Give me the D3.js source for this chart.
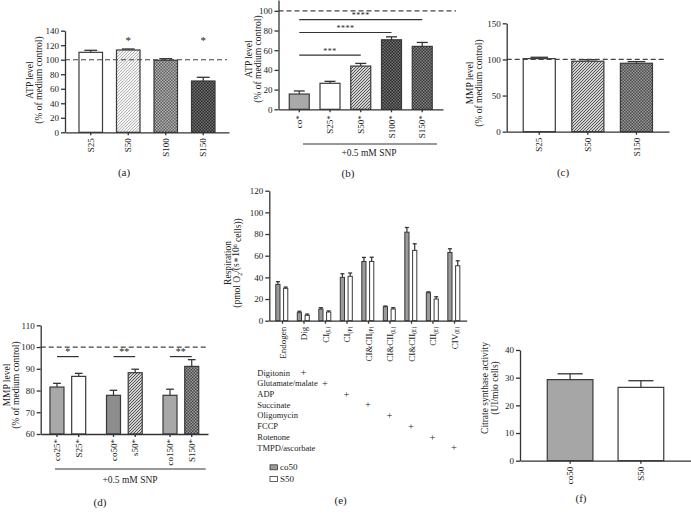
<!DOCTYPE html>
<html><head><meta charset="utf-8">
<script src="https://cdn.jsdelivr.net/npm/d3@7"></script>
<style>
body{margin:0;background:#fff;}
svg{display:block;font-family:"Liberation Serif","DejaVu Serif",serif;}
.axis path,.axis line{stroke:#333;stroke-width:1.3;}
.axis text{font-size:9px;fill:#222;font-family:"Liberation Serif",serif;}
text{fill:#222;}
</style></head><body>
<script>
// ---------- DATA ----------
const aCategories=["S25","S50","S100","S150"];
const aValues=[110.2,113.4,99.3,70.7];
const aErrors=[2.8,1.4,2.1,5.1];
const aStars=["","*","","*"];
const aTicks=[0,20,40,60,80,100,120,140];

const bCategories=["co*","S25*","S50*","S100*","S150*"];
const bValues=[15.5,26.4,43.9,70.6,63.9];
const bErrors=[3.1,2.0,2.7,3.0,4.0];
const bComparisons=[["co*","S50*",55,"***"],["co*","S100*",78,"****"],["co*","S150*",91,"****"]];
const bTicks=[0,20,40,60,80,100];

const cCategories=["S25","S50","S150"];
const cValues=[101.1,97.5,94.7];
const cErrors=[1.9,2.2,2.3];
const cTicks=[0,50,100,150];

const dGroups=["25","50","150"];
const dCoLabels=["co25*","co50*","co150*"];
const dSLabels=["S25*","s50*","S150*"];
const dCoValues=[81.6,77.8,77.8];
const dCoErrors=[1.7,2.3,2.8];
const dSValues=[86.5,88.2,91.1];
const dSErrors=[1.4,1.6,3.1];
const dStars=["*","**","**"];
const dTicks=[60,70,80,90,100,110];

const eCategories=["Endogen","Dig","CI","CI","CI&CII","CI&CII","CI&CII","CII","CIV"];
const eSubscripts=["","","(L)","(P)","(P)","(L)","(E)","(E)","(E)"];
const eCo50=[33.5,7.4,10.8,40.0,54.7,12.9,81.7,25.8,63.0];
const eCo50Err=[2.5,1.3,1.2,3.3,3.7,0.6,4.3,0.8,3.4];
const eS50=[29.9,5.0,8.0,41.0,54.7,10.8,64.9,20.0,50.7];
const eS50Err=[1.1,1.1,1.0,3.0,3.9,1.2,6.1,2.1,4.6];
const eTicks=[0,20,40,60,80,100,120];
const eProtocol=["Digitonin","Glutamate/malate","ADP","Succinate","Oligomycin","FCCP","Rotenone","TMPD/ascorbate"];
const eProtocolAt=[1,2,3,4,5,6,7,8];
const eSeries=["co50","S50"];

const fCategories=["co50","S50"];
const fValues=[29.3,26.5];
const fErrors=[2.1,2.4];
const fTicks=[0,10,20,30,40];

// ---------- SETUP ----------
const svg=d3.select("body").append("svg").attr("width",691).attr("height",515);
const defs=svg.append("defs");
function hatch(id,bg,fg,size,sw){
  const p=defs.append("pattern").attr("id",id).attr("patternUnits","userSpaceOnUse").attr("width",size).attr("height",size);
  p.append("rect").attr("width",size).attr("height",size).attr("fill",bg);
  p.append("path").attr("d",`M0,${size} L${size},0 M-1,1 L1,-1 M${size-1},${size+1} L${size+1},${size-1}`).attr("stroke",fg).attr("stroke-width",sw);
}
function checker(id,c1,c2,cell){
  const p=defs.append("pattern").attr("id",id).attr("patternUnits","userSpaceOnUse").attr("width",2*cell).attr("height",2*cell);
  p.append("rect").attr("width",2*cell).attr("height",2*cell).attr("fill",c1);
  p.append("rect").attr("width",cell).attr("height",cell).attr("fill",c2);
  p.append("rect").attr("x",cell).attr("y",cell).attr("width",cell).attr("height",cell).attr("fill",c2);
}
hatch("hLight","#f2f2f2","#b8b8b8",3,1);
hatch("hMed","#d0d0d0","#555",3,1);
checker("ckMed","#5e5e5e","#b4b4b4",1.5);
checker("ckDark","#2e2e2e","#6e6e6e",1.5);
checker("ckDark2","#3a3a3a","#808080",1.5);
checker("ckC","#4a4a4a","#9a9a9a",1.5);

const stroke="#3a3a3a";
function yAxis(y,x0,ticks){
  svg.append("g").attr("class","axis").attr("transform",`translate(${x0},0)`)
    .call(d3.axisLeft(y).tickValues(ticks).tickSize(4).tickSizeOuter(0).tickPadding(2).tickFormat(d3.format("d")));
}
function xAxis(x,y0,ticks){
  const g=svg.append("g").attr("class","axis").attr("transform",`translate(0,${y0})`)
    .call(d3.axisBottom(x).tickSize(3).tickSizeOuter(0));
  g.selectAll(".tick text").attr("transform","rotate(-90)").attr("x",-6).attr("y",0).attr("dy","0.35em").style("text-anchor","end");
  return g;
}
function bar(x0,w,y,base,v,e,fill,sw){
  svg.append("rect").attr("x",x0).attr("y",y(v)).attr("width",w).attr("height",y(base)-y(v))
    .attr("fill",fill).attr("stroke",stroke).attr("stroke-width",sw||1.2);
  const cx=x0+w/2, cw=Math.max(w*0.55,4);
  svg.append("line").attr("x1",cx).attr("x2",cx).attr("y1",y(v)).attr("y2",y(v+e)).attr("stroke","#333").attr("stroke-width",1.2);
  svg.append("line").attr("x1",cx-cw/2).attr("x2",cx+cw/2).attr("y1",y(v+e)).attr("y2",y(v+e)).attr("stroke","#333").attr("stroke-width",1.3);
}
function dashed(x1,x2,y){
  svg.append("line").attr("x1",x1).attr("x2",x2).attr("y1",y).attr("y2",y).attr("stroke","#444").attr("stroke-width",1.2).attr("stroke-dasharray","5,3");
}
function yTitle(lines,xs,cy,size){
  lines.forEach((t,i)=>{
    svg.append("text").attr("transform",`translate(${xs[i]},${cy}) rotate(-90)`).attr("dy","0.35em")
      .attr("text-anchor","middle").style("font-size",(size||9.5)+"px").text(t);
  });
}
function label(t,x,y,size){
  return svg.append("text").attr("x",x).attr("y",y).attr("dy","0.35em").attr("text-anchor","middle").style("font-size",(size||11)+"px").text(t);
}

// ---------- PANEL A ----------
{
  const x=d3.scaleBand(aCategories,[65,229]).padding(0.373);
  const y=d3.scaleLinear([0,140],[132.3,30.7]);
  const fills=["#ffffff","url(#hLight)","url(#ckMed)","url(#ckDark)"];
  aCategories.forEach((c,i)=>bar(x(c),x.bandwidth(),y,0,aValues[i],aErrors[i],fills[i]));
  dashed(65,227,y(100));
  aCategories.forEach((c,i)=>{ if(aStars[i]) label(aStars[i],x(c)+x.bandwidth()/2,y(127),11);});
  yAxis(y,65,aTicks); xAxis(x,y(0));
  yTitle(["ATP level","(% of medium control)"],[30,39],80);
  label("(a)",124,172);
}
// ---------- PANEL B ----------
{
  const x=d3.scaleBand(bCategories,[278.5,443]).padding(0.35);
  const y=d3.scaleLinear([0,111],[109.3,0]);
  const fills=["#a9a9a9","#ffffff","url(#hMed)","url(#ckDark)","url(#ckDark2)"];
  bCategories.forEach((c,i)=>bar(x(c),x.bandwidth(),y,0,bValues[i],bErrors[i],fills[i]));
  dashed(278.5,456,y(100));
  const cx=c=>x(c)+x.bandwidth()/2;
  bComparisons.forEach(([a,b,v,s])=>{
    svg.append("line").attr("x1",cx(a)).attr("x2",cx(b)).attr("y1",y(v)).attr("y2",y(v)).attr("stroke","#333").attr("stroke-width",1.2);
    svg.append("text").attr("x",(cx(a)+cx(b))/2).attr("y",y(v)-1.5).attr("text-anchor","middle").style("font-size","8px").style("letter-spacing","0.5px").text(s);
  });
  yAxis(y,278.5,bTicks); xAxis(x,y(0));
  svg.append("line").attr("x1",303).attr("x2",437).attr("y1",144).attr("y2",144).attr("stroke","#333").attr("stroke-width",1.2);
  label("+0.5 mM SNP",369,152.5,9.5);
  yTitle(["ATP level","(% of medium control)"],[249,258],59);
  label("(b)",348,173);
}
// ---------- PANEL C ----------
{
  const x=d3.scaleBand(cCategories,[506.7,669]).padding(0.34);
  const y=d3.scaleLinear([0,150],[131.7,23.3]);
  const fills=["#ffffff","url(#hMed)","url(#ckC)"];
  cCategories.forEach((c,i)=>bar(x(c),x.bandwidth(),y,0,cValues[i],cErrors[i],fills[i]));
  dashed(506.7,664,y(100));
  yAxis(y,506.7,cTicks); xAxis(x,y(0));
  yTitle(["MMP level","(% of medium control)"],[470,479],83);
  label("(c)",563,172);
}
// ---------- PANEL D ----------
{
  const x=d3.scaleBand(dGroups,[40.7,208]).paddingInner(0.368).paddingOuter(0.164);
  const inner=d3.scaleBand([0,1],[0,x.bandwidth()]).paddingInner(0.355);
  const y=d3.scaleLinear([60,110],[434,325.3]);
  const coFills=["#a8a8a8","#8d8d8d","#a8a8a8"];
  const sFills=["#ffffff","url(#hMed)","url(#ckC)"];
  const w=inner.bandwidth();
  dGroups.forEach((g,i)=>{
    bar(x(g)+inner(0),w,y,60,dCoValues[i],dCoErrors[i],coFills[i]);
    bar(x(g)+inner(1),w,y,60,dSValues[i],dSErrors[i],sFills[i]);
  });
  dashed(40.7,208,y(100));
  dGroups.forEach((g,i)=>{
    const x1=x(g)+inner(0)+w/2, x2=x(g)+inner(1)+w/2;
    svg.append("line").attr("x1",x1).attr("x2",x2).attr("y1",y(95.6)).attr("y2",y(95.6)).attr("stroke","#333").attr("stroke-width",1.2);
    svg.append("text").attr("x",(x1+x2)/2).attr("y",y(95.6)-1.5).attr("text-anchor","middle").style("font-size","10px").text(dStars[i]);
  });
  yAxis(y,40.7,dTicks);
  const g=svg.append("g").attr("class","axis").attr("transform",`translate(0,${y(60)})`)
    .call(d3.axisBottom(x).tickValues([]).tickSizeOuter(0));
  dGroups.forEach((gr,i)=>{
    [[0,dCoLabels[i]],[1,dSLabels[i]]].forEach(([k,t])=>{
      const cx=x(gr)+inner(k)+w/2;
      g.append("line").attr("x1",cx).attr("x2",cx).attr("y1",0).attr("y2",3);
      g.append("text").attr("transform",`translate(${cx},5) rotate(-90)`).attr("dy","0.35em").style("text-anchor","end").text(t);
    });
  });
  svg.append("line").attr("x1",55).attr("x2",205.7).attr("y1",469).attr("y2",469).attr("stroke","#333").attr("stroke-width",1.2);
  label("+0.5 mM SNP",130,479.5,9.5);
  yTitle(["MMP level","(% of medium control)"],[7,16],385);
  label("(d)",100,502);
}
// ---------- PANEL E ----------
{
  const idx=d3.range(eCategories.length);
  const x=d3.scalePoint(idx,[269.3,466.7]).padding(0.59);
  const inner=d3.scaleBand(eSeries,[-6.2,5.8]).paddingInner(0.46);
  const y=d3.scaleLinear([0,120],[320.7,190.7]);
  idx.forEach(i=>{
    bar(x(i)+inner("co50"),inner.bandwidth(),y,0,eCo50[i],eCo50Err[i],"#9a9a9a",1);
    bar(x(i)+inner("S50"),inner.bandwidth(),y,0,eS50[i],eS50Err[i],"#ffffff",1);
  });
  yAxis(y,269.3,eTicks);
  const g=svg.append("g").attr("class","axis").attr("transform",`translate(0,${y(0)})`)
    .call(d3.axisBottom(x).tickSize(3).tickSizeOuter(0));
  g.selectAll(".tick text").each(function(i){
    const t=d3.select(this).text("").attr("transform","rotate(-90)").attr("x",-6).attr("y",0).attr("dy","0.35em").style("text-anchor","end");
    t.append("tspan").text(eCategories[i]);
    if(eSubscripts[i]) t.append("tspan").attr("dy","0.3em").style("font-size","5.5px").text(eSubscripts[i]);
  });
  eProtocol.forEach((p,i)=>{
    const yy=372.7+i*10.7;
    svg.append("text").attr("x",257.3).attr("y",yy).attr("dy","0.35em").style("font-size","8.5px").text(p);
    svg.append("text").attr("x",x(eProtocolAt[i])).attr("y",yy).attr("dy","0.35em").attr("text-anchor","middle").style("font-size","10.5px").text("+");
  });
  const legFills=["#9a9a9a","#ffffff"];
  eSeries.forEach((s,i)=>{
    const yy=467.3+i*11.7;
    svg.append("rect").attr("x",270).attr("y",yy-2.5).attr("width",7.5).attr("height",5).attr("fill",legFills[i]).attr("stroke",stroke).attr("stroke-width",0.8);
    svg.append("text").attr("x",280).attr("y",yy).attr("dy","0.35em").style("font-size","9px").text(s);
  });
  const yt=svg.append("g").attr("transform","translate(0,263)");
  yt.append("text").attr("transform","translate(228,0) rotate(-90)").attr("dy","0.35em").attr("text-anchor","middle").style("font-size","9.5px").text("Respiration");
  const t2=yt.append("text").attr("transform","translate(237,0) rotate(-90)").attr("dy","0.35em").attr("text-anchor","middle").style("font-size","9.5px");
  t2.append("tspan").text("(pmol O");
  t2.append("tspan").attr("dy","0.25em").style("font-size","6px").text("2");
  t2.append("tspan").attr("dy","-0.25em").text("/(s∗10");
  t2.append("tspan").attr("dy","-0.4em").style("font-size","6px").text("6");
  t2.append("tspan").attr("dy","0.4em").text(" cells))");
  label("(e)",340.7,500);
}
// ---------- PANEL F ----------
{
  const x=d3.scaleBand(fCategories,[520,691]).paddingInner(0.355).paddingOuter(0.385);
  const y=d3.scaleLinear([0,40],[460.7,350]);
  const fills=["#a6a6a6","#ffffff"];
  fCategories.forEach((c,i)=>bar(x(c),x.bandwidth(),y,0,fValues[i],fErrors[i],fills[i]));
  yAxis(y,520,fTicks); xAxis(x,y(0));
  yTitle(["Citrate synthase activity","(UI/mio cells)"],[485,495],388);
  label("(f)",581,498);
}
</script></body></html>
